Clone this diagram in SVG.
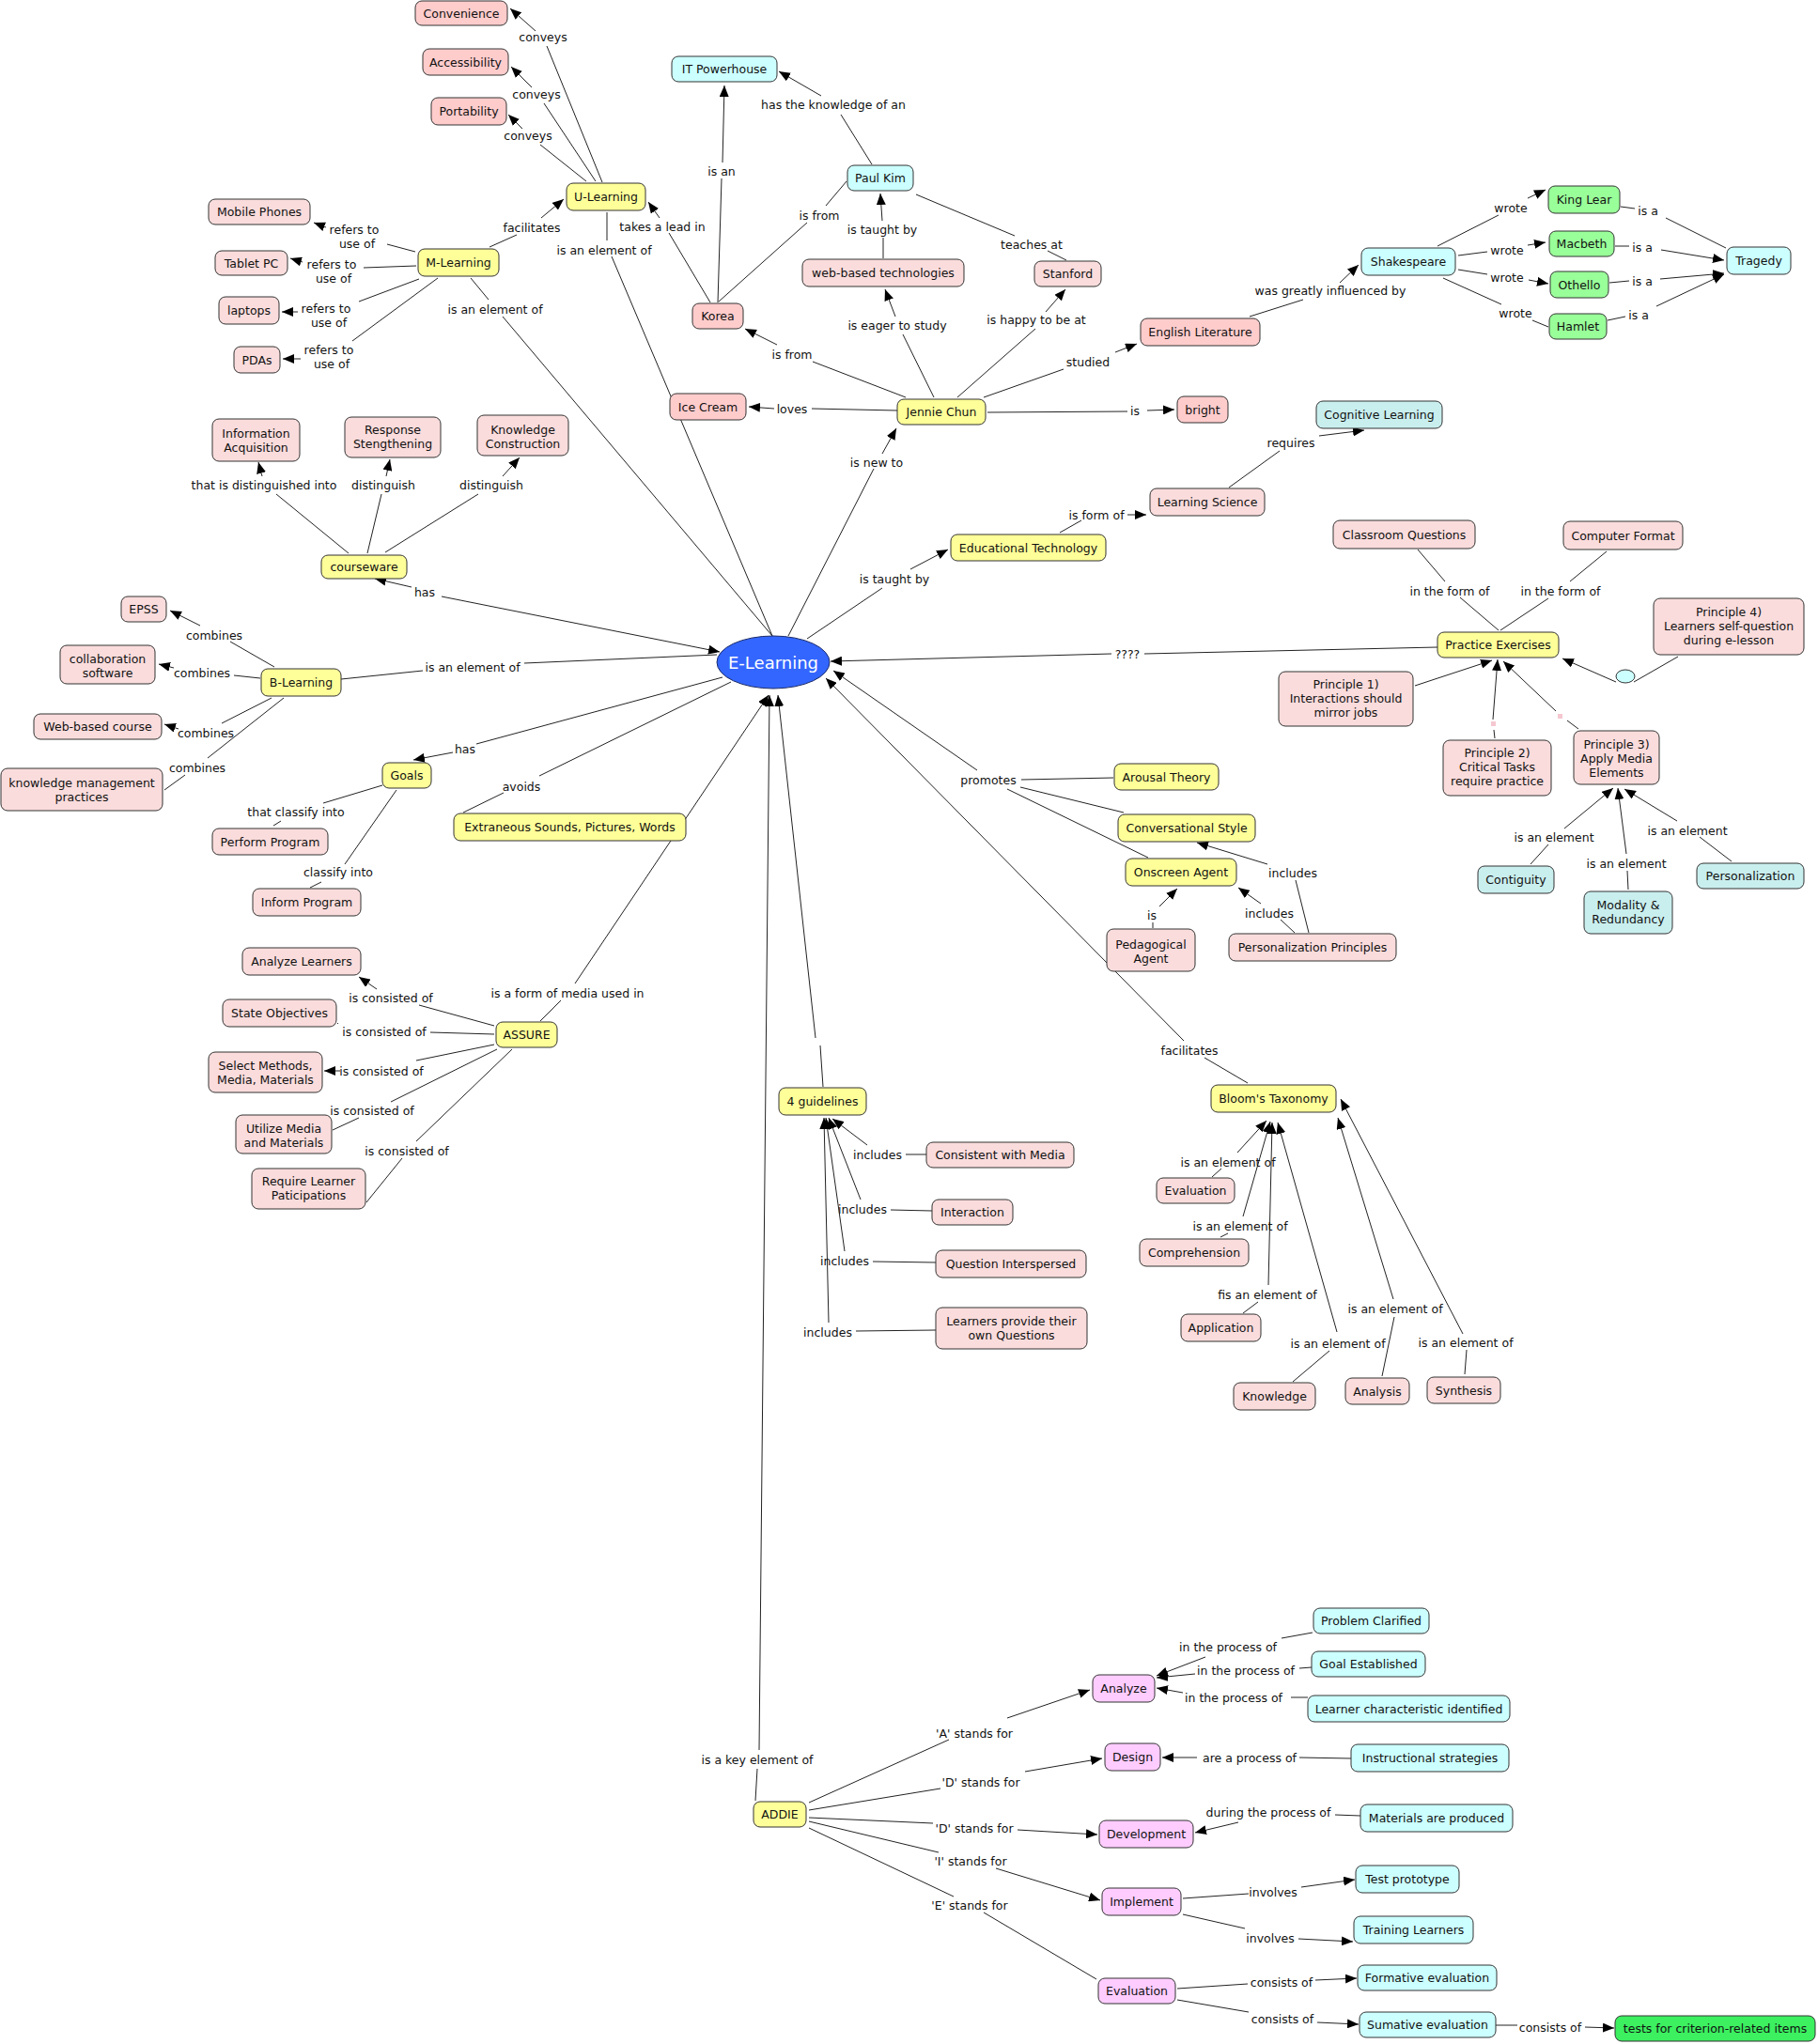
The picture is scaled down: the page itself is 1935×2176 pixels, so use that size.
<svg xmlns="http://www.w3.org/2000/svg" width="1935" height="2176" viewBox="0 0 1935 2176">
<defs>
<marker id="a" viewBox="0 0 12 10" refX="12" refY="5" markerWidth="12" markerHeight="10" markerUnits="userSpaceOnUse" orient="auto"><path d="M0,0 L12,5 L0,10 z" fill="#000"/></marker>
<style>
rect.n{stroke:#333;stroke-width:1}
.y{fill:#ffff99}.p1{fill:#ffcccc}.p2{fill:#fadcdc}.c1{fill:#ccffff}.c2{fill:#c9eeee}.g1{fill:#99ff99}.g2{fill:#3cf060}.m{fill:#ffccff}
text{font-family:"DejaVu Sans",Verdana,sans-serif;font-size:12.5px;fill:#111;text-anchor:middle}
#connectors path{stroke:#222;stroke-width:1;fill:none}
#connectors path.ar{marker-end:url(#a)}
</style>
</defs>
<rect width="1935" height="2176" fill="#fff"/>
<g id="connectors">
<path d="M641,194 L582,49"/><path class="ar" d="M570,33 L543,9"/>
<path d="M634,193 L579,110"/><path class="ar" d="M566,93 L544,71"/>
<path d="M624,193 L575,154"/><path class="ar" d="M556,137 L541,122"/>
<path d="M521,263 L550,250"/><path class="ar" d="M576,232 L600,212"/>
<path d="M442,268 L412,260"/><path class="ar" d="M347,242 L334,237"/>
<path d="M443,283 L387,285"/><path class="ar" d="M322,279 L309,275"/>
<path d="M446,297 L382,321"/><path class="ar" d="M317,332 L300,332"/>
<path d="M466,296 L375,363"/><path class="ar" d="M320,382 L301,382"/>
<path d="M501,296 L520,319"/><path d="M535,337 L822,677"/>
<path d="M646,226 L646,256"/><path d="M651,273 L822,677"/>
<path d="M756,322 L712,248"/><path class="ar" d="M702,232 L690,215"/>
<path d="M764,322 L768,190"/><path class="ar" d="M769,173 L771,91"/>
<path d="M765,321 L859,237"/><path d="M879,219 L901,193"/>
<path d="M928,175 L895,122"/><path class="ar" d="M874,102 L829,76"/>
<path d="M940,275 L940,253"/><path class="ar" d="M939,235 L937,206"/>
<path d="M975,207 L1080,251"/><path d="M1115,267 L1135,277"/>
<path d="M994,423 L961,356"/><path class="ar" d="M953,337 L942,308"/>
<path d="M1019,423 L1102,350"/><path class="ar" d="M1113,332 L1134,308"/>
<path d="M964,423 L865,385"/><path class="ar" d="M827,367 L793,350"/>
<path d="M1047,423 L1132,393"/><path class="ar" d="M1187,375 L1210,366"/>
<path d="M955,437 L864,435"/><path class="ar" d="M824,435 L797,433"/>
<path d="M1051,439 L1200,438"/><path class="ar" d="M1221,437 L1250,436"/>
<path d="M1330,337 L1387,319"/><path class="ar" d="M1426,301 L1446,282"/>
<path d="M1530,262 L1595,229"/><path class="ar" d="M1626,211 L1645,202"/>
<path d="M1552,272 L1583,268"/><path class="ar" d="M1626,261 L1645,258"/>
<path d="M1552,287 L1583,292"/><path class="ar" d="M1627,298 L1648,302"/>
<path d="M1536,296 L1598,324"/><path d="M1631,341 L1648,348"/>
<path d="M1725,220 L1740,222"/><path d="M1773,232 L1837,264"/>
<path d="M1719,262 L1734,262"/><path class="ar" d="M1768,266 L1835,277"/>
<path d="M1713,301 L1734,299"/><path class="ar" d="M1767,297 L1835,291"/>
<path d="M1711,341 L1730,337"/><path class="ar" d="M1763,326 L1835,292"/>
<path d="M1308,519 L1362,480"/><path class="ar" d="M1404,464 L1452,458"/>
<path d="M839,677 L930,499"/><path class="ar" d="M939,483 L954,456"/>
<path d="M859,680 L939,626"/><path class="ar" d="M969,606 L1009,585"/>
<path d="M1128,567 L1151,554"/><path class="ar" d="M1200,548 L1220,548"/>
<path d="M1530,689 L1218,696"/><path class="ar" d="M1183,696 L884,704"/>
<path class="ar" d="M1506,730 L1588,703"/>
<path d="M1591,786 L1590,777"/><path class="ar" d="M1589,766 L1594,702"/>
<path d="M1680,776 L1668,767"/><path class="ar" d="M1656,757 L1600,704"/>
<path d="M1786,699 L1739,726"/><path class="ar" d="M1720,726 L1663,701"/>
<path d="M1509,585 L1538,619"/><path d="M1554,636 L1595,671"/>
<path d="M1710,587 L1671,619"/><path d="M1648,637 L1597,671"/>
<path d="M1629,920 L1648,899"/><path class="ar" d="M1665,882 L1717,839"/>
<path d="M1733,947 L1732,927"/><path class="ar" d="M1731,909 L1722,839"/>
<path d="M1843,917 L1809,891"/><path class="ar" d="M1785,874 L1729,840"/>
<path class="ar" d="M1040,820 L887,714"/><path d="M1087,830 L1185,828"/><path d="M1086,838 L1196,865"/><path d="M1072,840 L1222,913"/>
<path d="M1227,988 L1227,982"/><path class="ar" d="M1234,965 L1253,946"/>
<path d="M1378,993 L1363,979"/><path class="ar" d="M1342,962 L1318,945"/>
<path d="M1393,993 L1379,937"/><path class="ar" d="M1349,920 L1274,897"/>
<path d="M1328,1153 L1282,1126"/><path class="ar" d="M1260,1108 L879,722"/>
<path d="M1290,1253 L1300,1244"/><path class="ar" d="M1317,1227 L1348,1193"/>
<path d="M1299,1317 L1307,1313"/><path class="ar" d="M1323,1295 L1352,1194"/>
<path d="M1323,1398 L1339,1386"/><path class="ar" d="M1350,1368 L1354,1195"/>
<path d="M1376,1471 L1415,1438"/><path class="ar" d="M1423,1418 L1360,1195"/>
<path d="M1471,1465 L1484,1402"/><path class="ar" d="M1483,1383 L1424,1190"/>
<path d="M1559,1463 L1561,1437"/><path class="ar" d="M1557,1420 L1427,1170"/>
<path class="ar" d="M470,635 L766,694"/><path class="ar" d="M438,625 L399,616"/>
<path d="M363,723 L450,714"/><path d="M558,706 L763,697"/>
<path d="M292,710 L245,683"/><path class="ar" d="M213,666 L181,650"/>
<path d="M277,722 L249,719"/><path class="ar" d="M185,711 L169,707"/>
<path d="M289,743 L236,770"/><path class="ar" d="M190,776 L175,771"/>
<path d="M302,743 L221,807"/><path d="M197,825 L175,841"/>
<path d="M769,721 L507,792"/><path class="ar" d="M482,801 L440,809"/>
<path d="M778,726 L574,826"/><path d="M536,844 L493,865"/>
<path d="M407,836 L344,855"/><path d="M299,874 L291,879"/>
<path d="M422,841 L367,920"/><path d="M342,939 L330,945"/>
<path d="M371,589 L294,526"/><path class="ar" d="M279,507 L275,492"/>
<path d="M391,589 L406,526"/><path class="ar" d="M411,507 L415,489"/>
<path d="M410,588 L509,526"/><path class="ar" d="M535,507 L553,487"/>
<path d="M575,1087 L597,1065"/><path class="ar" d="M612,1047 L818,740"/>
<path d="M526,1092 L446,1070"/><path class="ar" d="M401,1053 L382,1040"/>
<path d="M526,1101 L458,1099"/><path d="M360,1090 L359,1089"/>
<path d="M526,1112 L443,1129"/><path class="ar" d="M362,1140 L345,1140"/>
<path d="M529,1117 L416,1173"/><path d="M382,1190 L354,1203"/>
<path d="M545,1117 L443,1215"/><path d="M428,1233 L390,1280"/>
<path d="M986,1229 L964,1229"/><path class="ar" d="M923,1219 L886,1191"/>
<path d="M992,1289 L948,1288"/><path class="ar" d="M916,1277 L882,1190"/>
<path d="M996,1344 L929,1343"/><path class="ar" d="M899,1332 L879,1190"/>
<path d="M996,1416 L911,1417"/><path class="ar" d="M882,1408 L877,1190"/>
<path d="M876,1157 L873,1113"/><path class="ar" d="M868,1105 L828,740"/>
<path d="M804,1917 L806,1883"/><path class="ar" d="M808,1863 L819,740"/>
<path d="M861,1919 L1010,1852"/><path class="ar" d="M1072,1829 L1160,1799"/>
<path d="M861,1927 L1001,1904"/><path class="ar" d="M1091,1886 L1173,1872"/>
<path d="M861,1935 L993,1941"/><path class="ar" d="M1083,1948 L1168,1953"/>
<path d="M861,1939 L999,1972"/><path class="ar" d="M1060,1989 L1171,2023"/>
<path d="M861,1946 L1015,2019"/><path d="M1047,2036 L1167,2107"/>
<path d="M1397,1738 L1364,1744"/><path class="ar" d="M1283,1764 L1231,1784"/>
<path d="M1396,1775 L1383,1776"/><path class="ar" d="M1272,1782 L1231,1786"/>
<path d="M1392,1807 L1374,1807"/><path class="ar" d="M1259,1802 L1231,1797"/>
<path d="M1438,1872 L1383,1871"/><path class="ar" d="M1274,1871 L1237,1871"/>
<path d="M1448,1933 L1421,1932"/><path class="ar" d="M1318,1940 L1272,1951"/>
<path d="M1259,2021 L1329,2016"/><path class="ar" d="M1385,2009 L1442,2001"/>
<path d="M1259,2038 L1325,2053"/><path class="ar" d="M1382,2064 L1440,2067"/>
<path d="M1253,2117 L1328,2112"/><path class="ar" d="M1400,2108 L1444,2106"/>
<path d="M1253,2129 L1329,2142"/><path class="ar" d="M1402,2153 L1446,2155"/>
<path d="M1592,2156 L1615,2156"/><path class="ar" d="M1687,2158 L1718,2159"/>
<ellipse cx="1730" cy="720" rx="10" ry="7" fill="#ccffff" stroke="#333"/>
<rect x="1587" y="768" width="5" height="5" fill="#f5c8d0"/>
<rect x="1658" y="760" width="5" height="5" fill="#f5c8d0"/>
<g id="labels">
<text x="578" y="43.5">conveys</text>
<text x="571" y="104.5">conveys</text>
<text x="562" y="148.5">conveys</text>
<text x="566" y="246.5">facilitates</text>
<text x="643" y="270.5">is an element of</text>
<text x="377" y="248.5">refers to<tspan x="380" dy="15">use of</tspan></text>
<text x="353" y="285.5">refers to<tspan x="355" dy="15">use of</tspan></text>
<text x="347" y="332.5">refers to<tspan x="350" dy="15">use of</tspan></text>
<text x="350" y="376.5">refers to<tspan x="353" dy="15">use of</tspan></text>
<text x="527" y="333.5">is an element of</text>
<text x="705" y="245.5">takes a lead in</text>
<text x="768" y="186.5">is an</text>
<text x="887" y="115.5">has the knowledge of an</text>
<text x="872" y="233.5">is from</text>
<text x="939" y="248.5">is taught by</text>
<text x="1098" y="264.5">teaches at</text>
<text x="955" y="350.5">is eager to study</text>
<text x="1103" y="344.5">is happy to be at</text>
<text x="843" y="381.5">is from</text>
<text x="1158" y="389.5">studied</text>
<text x="843" y="439.5">loves</text>
<text x="1208" y="441.5">is</text>
<text x="1416" y="313.5">was greatly influenced by</text>
<text x="1608" y="225.5">wrote</text>
<text x="1604" y="270.5">wrote</text>
<text x="1604" y="299.5">wrote</text>
<text x="1613" y="337.5">wrote</text>
<text x="1754" y="228.5">is a</text>
<text x="1748" y="267.5">is a</text>
<text x="1748" y="303.5">is a</text>
<text x="1744" y="339.5">is a</text>
<text x="1374" y="475.5">requires</text>
<text x="933" y="496.5">is new to</text>
<text x="952" y="620.5">is taught by</text>
<text x="1167" y="552.5">is form of</text>
<text x="1200" y="700.5">????</text>
<text x="1052" y="834.5">promotes</text>
<text x="1226" y="978.5">is</text>
<text x="1351" y="976.5">includes</text>
<text x="1376" y="933.5">includes</text>
<text x="1543" y="633.5">in the form of</text>
<text x="1661" y="633.5">in the form of</text>
<text x="1654" y="895.5">is an element</text>
<text x="1731" y="923.5">is an element</text>
<text x="1796" y="888.5">is an element</text>
<text x="281" y="520.5">that is distinguished into</text>
<text x="408" y="520.5">distinguish</text>
<text x="523" y="520.5">distinguish</text>
<text x="452" y="634.5">has</text>
<text x="228" y="680.5">combines</text>
<text x="215" y="720.5">combines</text>
<text x="219" y="784.5">combines</text>
<text x="210" y="821.5">combines</text>
<text x="503" y="714.5">is an element of</text>
<text x="495" y="801.5">has</text>
<text x="555" y="841.5">avoids</text>
<text x="315" y="868.5">that classify into</text>
<text x="360" y="932.5">classify into</text>
<text x="416" y="1066.5">is consisted of</text>
<text x="409" y="1102.5">is consisted of</text>
<text x="406" y="1144.5">is consisted of</text>
<text x="396" y="1186.5">is consisted of</text>
<text x="433" y="1229.5">is consisted of</text>
<text x="604" y="1061.5">is a form of media used in</text>
<text x="934" y="1233.5">includes</text>
<text x="918" y="1291.5">includes</text>
<text x="899" y="1346.5">includes</text>
<text x="881" y="1422.5">includes</text>
<text x="1266" y="1122.5">facilitates</text>
<text x="1307" y="1241.5">is an element of</text>
<text x="1320" y="1309.5">is an element of</text>
<text x="1349" y="1382.5">fis an element of</text>
<text x="1424" y="1434.5">is an element of</text>
<text x="1485" y="1397.5">is an element of</text>
<text x="1560" y="1433.5">is an element of</text>
<text x="806" y="1877.5">is a key element of</text>
<text x="1037" y="1849.5">'A' stands for</text>
<text x="1044" y="1901.5">'D' stands for</text>
<text x="1037" y="1950.5">'D' stands for</text>
<text x="1033" y="1985.5">'I' stands for</text>
<text x="1032" y="2032.5">'E' stands for</text>
<text x="1307" y="1757.5">in the process of</text>
<text x="1326" y="1782.5">in the process of</text>
<text x="1313" y="1811.5">in the process of</text>
<text x="1330" y="1875.5">are a process of</text>
<text x="1350" y="1933.5">during the process of</text>
<text x="1355" y="2018.5">involves</text>
<text x="1352" y="2067.5">involves</text>
<text x="1364" y="2114.5">consists of</text>
<text x="1365" y="2153.5">consists of</text>
<text x="1650" y="2162.5">consists of</text>
</g>
</g>
<g id="nodes">
<g id="n1"><rect class="n p1" x="442" y="1" width="98" height="26" rx="7"/><text x="491" y="18.5">Convenience</text></g>
<g id="n2"><rect class="n p1" x="450" y="52" width="91" height="28" rx="7"/><text x="495.5" y="70.5">Accessibility</text></g>
<g id="n3"><rect class="n p1" x="459" y="104" width="80" height="29" rx="7"/><text x="499" y="123">Portability</text></g>
<g id="n4"><rect class="n y" x="603" y="195" width="84" height="29" rx="7"/><text x="645" y="214">U-Learning</text></g>
<g id="n5"><rect class="n p2" x="222" y="212" width="108" height="27" rx="7"/><text x="276" y="230">Mobile Phones</text></g>
<g id="n6"><rect class="n p2" x="229" y="267" width="77" height="26" rx="7"/><text x="267.5" y="284.5">Tablet PC</text></g>
<g id="n7"><rect class="n p2" x="233" y="316" width="64" height="29" rx="7"/><text x="265" y="335">laptops</text></g>
<g id="n8"><rect class="n p2" x="249" y="369" width="49" height="28" rx="7"/><text x="273.5" y="387.5">PDAs</text></g>
<g id="n9"><rect class="n y" x="445" y="265" width="86" height="29" rx="7"/><text x="488" y="284">M-Learning</text></g>
<g id="n10"><rect class="n c1" x="715" y="60" width="112" height="27" rx="7"/><text x="771" y="78">IT Powerhouse</text></g>
<g id="n11"><rect class="n c1" x="902" y="176" width="70" height="27" rx="7"/><text x="937" y="194">Paul Kim</text></g>
<g id="n12"><rect class="n p1" x="737" y="323" width="54" height="27" rx="7"/><text x="764" y="341">Korea</text></g>
<g id="n13"><rect class="n p2" x="854" y="276" width="172" height="29" rx="7"/><text x="940" y="295">web-based technologies</text></g>
<g id="n14"><rect class="n p2" x="1101" y="278" width="71" height="27" rx="7"/><text x="1136.5" y="296">Stanford</text></g>
<g id="n15"><rect class="n p1" x="1214" y="339" width="127" height="29" rx="7"/><text x="1277.5" y="358">English Literature</text></g>
<g id="n16"><rect class="n p1" x="713" y="419" width="81" height="28" rx="7"/><text x="753.5" y="437.5">Ice Cream</text></g>
<g id="n17"><rect class="n y" x="955" y="425" width="94" height="27" rx="7"/><text x="1002" y="443">Jennie Chun</text></g>
<g id="n18"><rect class="n p1" x="1253" y="422" width="54" height="28" rx="7"/><text x="1280" y="440.5">bright</text></g>
<g id="n19"><rect class="n c1" x="1449" y="264" width="100" height="29" rx="7"/><text x="1499" y="283">Shakespeare</text></g>
<g id="n20"><rect class="n g1" x="1648" y="198" width="76" height="29" rx="7"/><text x="1686" y="217">King Lear</text></g>
<g id="n21"><rect class="n g1" x="1649" y="246" width="69" height="27" rx="7"/><text x="1683.5" y="264">Macbeth</text></g>
<g id="n22"><rect class="n g1" x="1650" y="289" width="62" height="28" rx="7"/><text x="1681" y="307.5">Othello</text></g>
<g id="n23"><rect class="n g1" x="1649" y="334" width="61" height="27" rx="7"/><text x="1679.5" y="352">Hamlet</text></g>
<g id="n24"><rect class="n c1" x="1838" y="263" width="68" height="29" rx="7"/><text x="1872" y="282">Tragedy</text></g>
<g id="n25"><rect class="n c2" x="1401" y="427" width="134" height="29" rx="7"/><text x="1468" y="446">Cognitive Learning</text></g>
<g id="n26"><rect class="n p2" x="226" y="446" width="93" height="45" rx="7"/><text x="272.5" y="465.5">Information<tspan x="272.5" dy="15">Acquisition</tspan></text></g>
<g id="n27"><rect class="n p2" x="367" y="444" width="102" height="43" rx="7"/><text x="418" y="462">Response<tspan x="418" dy="15">Stengthening</tspan></text></g>
<g id="n28"><rect class="n p2" x="508" y="442" width="97" height="43" rx="7"/><text x="556.5" y="461.5">Knowledge<tspan x="556.5" dy="15">Construction</tspan></text></g>
<g id="n29"><rect class="n y" x="342" y="591" width="91" height="25" rx="7"/><text x="387.5" y="608">courseware</text></g>
<g id="n30"><rect class="n p2" x="129" y="635" width="48" height="27" rx="7"/><text x="153" y="653">EPSS</text></g>
<g id="n31"><rect class="n p2" x="64" y="687" width="101" height="41" rx="7"/><text x="114.5" y="705.5">collaboration<tspan x="114.5" dy="15">software</tspan></text></g>
<g id="n32"><rect class="n y" x="278" y="712" width="85" height="29" rx="7"/><text x="320.5" y="731">B-Learning</text></g>
<g id="n33"><rect class="n p2" x="36" y="760" width="136" height="27" rx="7"/><text x="104" y="778">Web-based course</text></g>
<g id="n34"><rect class="n p2" x="1" y="818" width="172" height="45" rx="7"/><text x="87" y="837.5">knowledge management<tspan x="87" dy="15">practices</tspan></text></g>
<g id="n35"><rect class="n y" x="407" y="812" width="52" height="27" rx="7"/><text x="433" y="830">Goals</text></g>
<g id="n36"><rect class="n p2" x="226" y="882" width="123" height="28" rx="7"/><text x="287.5" y="900.5">Perform Program</text></g>
<g id="n37"><rect class="n p2" x="269" y="946" width="115" height="29" rx="7"/><text x="326.5" y="965">Inform Program</text></g>
<g id="n38"><rect class="n y" x="483" y="866" width="247" height="29" rx="7"/><text x="606.5" y="885">Extraneous Sounds, Pictures, Words</text></g>
<g id="n39"><ellipse cx="823" cy="705" rx="60" ry="28" fill="#3366ff" stroke="#1a2a66"/><text x="823" y="711.5" style="font-size:18px;fill:#fff">E-Learning</text></g>
<g id="n40"><rect class="n y" x="1012" y="569" width="165" height="28" rx="7"/><text x="1094.5" y="587.5">Educational Technology</text></g>
<g id="n41"><rect class="n p2" x="1224" y="520" width="122" height="29" rx="7"/><text x="1285" y="539">Learning Science</text></g>
<g id="n42"><rect class="n y" x="1186" y="813" width="111" height="28" rx="7"/><text x="1241.5" y="831.5">Arousal Theory</text></g>
<g id="n43"><rect class="n y" x="1190" y="867" width="146" height="29" rx="7"/><text x="1263" y="886">Conversational Style</text></g>
<g id="n44"><rect class="n y" x="1198" y="914" width="118" height="29" rx="7"/><text x="1257" y="933">Onscreen Agent</text></g>
<g id="n45"><rect class="n p2" x="1178" y="989" width="94" height="45" rx="7"/><text x="1225" y="1009.5">Pedagogical<tspan x="1225" dy="15">Agent</tspan></text></g>
<g id="n46"><rect class="n p2" x="1308" y="994" width="178" height="29" rx="7"/><text x="1397" y="1013">Personalization Principles</text></g>
<g id="n47"><rect class="n p2" x="1419" y="554" width="151" height="30" rx="7"/><text x="1494.5" y="573.5">Classroom Questions</text></g>
<g id="n48"><rect class="n p2" x="1664" y="555" width="127" height="30" rx="7"/><text x="1727.5" y="574.5">Computer Format</text></g>
<g id="n49"><rect class="n y" x="1530" y="673" width="129" height="27" rx="7"/><text x="1594.5" y="691">Practice Exercises</text></g>
<g id="n50"><rect class="n p2" x="1760" y="637" width="160" height="60" rx="7"/><text x="1840" y="656">Principle 4)<tspan x="1840" dy="15">Learners self-question</tspan><tspan x="1840" dy="15">during e-lesson</tspan></text></g>
<g id="n51"><rect class="n p2" x="1361" y="715" width="143" height="58" rx="7"/><text x="1432.5" y="733">Principle 1)<tspan x="1432.5" dy="15">Interactions should</tspan><tspan x="1432.5" dy="15">mirror jobs</tspan></text></g>
<g id="n52"><rect class="n p2" x="1536" y="788" width="115" height="59" rx="7"/><text x="1593.5" y="806">Principle 2)<tspan x="1593.5" dy="15">Critical Tasks</tspan><tspan x="1593.5" dy="15">require practice</tspan></text></g>
<g id="n53"><rect class="n p2" x="1675" y="778" width="91" height="57" rx="7"/><text x="1720.5" y="797">Principle 3)<tspan x="1720.5" dy="15">Apply Media</tspan><tspan x="1720.5" dy="15">Elements</tspan></text></g>
<g id="n54"><rect class="n c2" x="1573" y="922" width="81" height="29" rx="7"/><text x="1613.5" y="941">Contiguity</text></g>
<g id="n55"><rect class="n c2" x="1686" y="949" width="94" height="45" rx="7"/><text x="1733" y="968">Modality &amp;<tspan x="1733" dy="15">Redundancy</tspan></text></g>
<g id="n56"><rect class="n c2" x="1806" y="919" width="114" height="27" rx="7"/><text x="1863" y="937">Personalization</text></g>
<g id="n57"><rect class="n p2" x="258" y="1009" width="126" height="29" rx="7"/><text x="321" y="1028">Analyze Learners</text></g>
<g id="n58"><rect class="n p2" x="237" y="1064" width="121" height="29" rx="7"/><text x="297.5" y="1083">State Objectives</text></g>
<g id="n59"><rect class="n p2" x="222" y="1120" width="121" height="43" rx="7"/><text x="282.5" y="1138.5">Select Methods,<tspan x="282.5" dy="15">Media, Materials</tspan></text></g>
<g id="n60"><rect class="n p2" x="251" y="1187" width="102" height="41" rx="7"/><text x="302" y="1205.5">Utilize Media<tspan x="302" dy="15">and Materials</tspan></text></g>
<g id="n61"><rect class="n p2" x="268" y="1244" width="121" height="43" rx="7"/><text x="328.5" y="1261.5">Require Learner<tspan x="328.5" dy="15">Paticipations</tspan></text></g>
<g id="n62"><rect class="n y" x="528" y="1088" width="65" height="27" rx="7"/><text x="560.5" y="1106">ASSURE</text></g>
<g id="n63"><rect class="n y" x="829" y="1158" width="93" height="29" rx="7"/><text x="875.5" y="1177">4 guidelines</text></g>
<g id="n64"><rect class="n p2" x="986" y="1216" width="157" height="27" rx="7"/><text x="1064.5" y="1234">Consistent with Media</text></g>
<g id="n65"><rect class="n p2" x="992" y="1277" width="86" height="27" rx="7"/><text x="1035" y="1295">Interaction</text></g>
<g id="n66"><rect class="n p2" x="996" y="1331" width="160" height="29" rx="7"/><text x="1076" y="1350">Question Interspersed</text></g>
<g id="n67"><rect class="n p2" x="996" y="1392" width="161" height="44" rx="7"/><text x="1076.5" y="1411">Learners provide their<tspan x="1076.5" dy="15">own Questions</tspan></text></g>
<g id="n68"><rect class="n y" x="1289" y="1155" width="133" height="29" rx="7"/><text x="1355.5" y="1174">Bloom's Taxonomy</text></g>
<g id="n69"><rect class="n p2" x="1231" y="1254" width="83" height="27" rx="7"/><text x="1272.5" y="1272">Evaluation</text></g>
<g id="n70"><rect class="n p2" x="1213" y="1319" width="116" height="29" rx="7"/><text x="1271" y="1338">Comprehension</text></g>
<g id="n71"><rect class="n p2" x="1257" y="1399" width="85" height="29" rx="7"/><text x="1299.5" y="1418">Application</text></g>
<g id="n72"><rect class="n p2" x="1313" y="1472" width="87" height="29" rx="7"/><text x="1356.5" y="1491">Knowledge</text></g>
<g id="n73"><rect class="n p2" x="1432" y="1467" width="68" height="28" rx="7"/><text x="1466" y="1485.5">Analysis</text></g>
<g id="n74"><rect class="n p2" x="1519" y="1466" width="78" height="28" rx="7"/><text x="1558" y="1484.5">Synthesis</text></g>
<g id="n75"><rect class="n y" x="802" y="1918" width="56" height="27" rx="7"/><text x="830" y="1936">ADDIE</text></g>
<g id="n76"><rect class="n m" x="1163" y="1783" width="66" height="29" rx="7"/><text x="1196" y="1802">Analyze</text></g>
<g id="n77"><rect class="n m" x="1176" y="1856" width="59" height="29" rx="7"/><text x="1205.5" y="1875">Design</text></g>
<g id="n78"><rect class="n m" x="1170" y="1938" width="100" height="29" rx="7"/><text x="1220" y="1957">Development</text></g>
<g id="n79"><rect class="n m" x="1173" y="2010" width="84" height="29" rx="7"/><text x="1215" y="2029">Implement</text></g>
<g id="n80"><rect class="n m" x="1169" y="2106" width="82" height="27" rx="7"/><text x="1210" y="2124">Evaluation</text></g>
<g id="n81"><rect class="n c1" x="1398" y="1712" width="123" height="27" rx="7"/><text x="1459.5" y="1730">Problem Clarified</text></g>
<g id="n82"><rect class="n c1" x="1396" y="1758" width="121" height="27" rx="7"/><text x="1456.5" y="1776">Goal Established</text></g>
<g id="n83"><rect class="n c1" x="1392" y="1805" width="215" height="28" rx="7"/><text x="1499.5" y="1823.5">Learner characteristic identified</text></g>
<g id="n84"><rect class="n c1" x="1438" y="1857" width="168" height="29" rx="7"/><text x="1522" y="1876">Instructional strategies</text></g>
<g id="n85"><rect class="n c1" x="1448" y="1921" width="162" height="29" rx="7"/><text x="1529" y="1940">Materials are produced</text></g>
<g id="n86"><rect class="n c1" x="1443" y="1986" width="110" height="29" rx="7"/><text x="1498" y="2005">Test prototype</text></g>
<g id="n87"><rect class="n c1" x="1441" y="2040" width="127" height="29" rx="7"/><text x="1504.5" y="2059">Training Learners</text></g>
<g id="n88"><rect class="n c1" x="1445" y="2092" width="148" height="27" rx="7"/><text x="1519" y="2110">Formative evaluation</text></g>
<g id="n89"><rect class="n c1" x="1447" y="2142" width="145" height="27" rx="7"/><text x="1519.5" y="2160">Sumative evaluation</text></g>
<g id="n90"><rect class="n g2" x="1719" y="2146" width="213" height="27" rx="7"/><text x="1825.5" y="2164">tests for criterion-related items</text></g>
</g>
</svg>
